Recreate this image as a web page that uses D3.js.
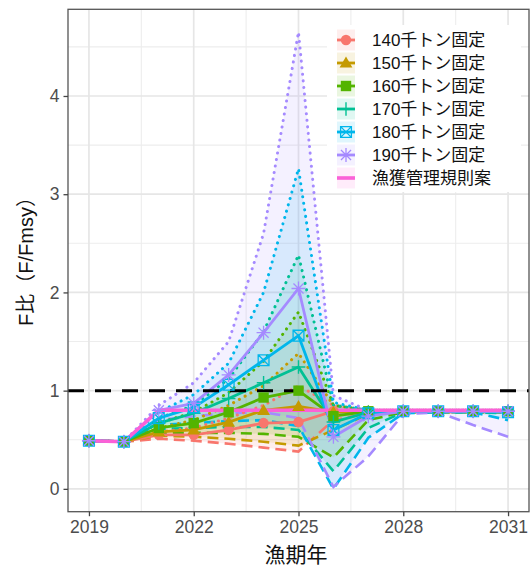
<!DOCTYPE html>
<html>
<head>
<meta charset="utf-8">
<script src="https://cdn.jsdelivr.net/npm/d3@7"></script>
<style>
  body { margin: 0; background: #ffffff; }
  svg { display: block; }
  text { font-family: "Liberation Sans", Arial, "Noto Sans CJK JP", sans-serif; }
</style>
</head>
<body>
<svg id="chart" width="532" height="572"></svg>
<script>
// Fishing years on the x axis
const years = [2019, 2020, 2021, 2022, 2023, 2024, 2025, 2026, 2027, 2028, 2029, 2030, 2031];
const xTicks = [2019, 2022, 2025, 2028, 2031];
const yTicks = [0, 1, 2, 3, 4];

// Catch scenarios
const scenarioNames = ["140千トン固定", "150千トン固定", "160千トン固定", "170千トン固定",
                       "180千トン固定", "190千トン固定", "漁獲管理規則案"];
const seriesColors = ["#F8766D", "#C49A00", "#53B400", "#00C094", "#00B6EB", "#A58AFF", "#FB61D7"];
const markerKinds = ["circle", "triangle", "square", "plus", "boxcross", "asterisk", "none"];

// Median F/Fmsy per scenario
const medianF = [
  [0.49, 0.48, 0.55, 0.55, 0.60, 0.67, 0.68, 0.79, 0.79, 0.79, 0.79, 0.79, 0.79],
  [0.49, 0.48, 0.58, 0.60, 0.68, 0.80, 0.84, 0.78, 0.79, 0.79, 0.79, 0.79, 0.79],
  [0.49, 0.48, 0.62, 0.67, 0.78, 0.93, 1.00, 0.74, 0.79, 0.79, 0.79, 0.79, 0.79],
  [0.49, 0.48, 0.67, 0.77, 0.92, 1.08, 1.24, 0.68, 0.78, 0.79, 0.79, 0.79, 0.79],
  [0.49, 0.48, 0.72, 0.83, 1.06, 1.31, 1.56, 0.60, 0.77, 0.79, 0.79, 0.79, 0.78],
  [0.49, 0.48, 0.80, 0.87, 1.16, 1.59, 2.04, 0.53, 0.74, 0.79, 0.79, 0.79, 0.79],
  [0.49, 0.48, 0.80, 0.80, 0.80, 0.80, 0.80, 0.80, 0.80, 0.80, 0.80, 0.80, 0.80]
];

// Lower bound of the F/Fmsy range per scenario
const lowerF = [
  [0.49, 0.48, 0.51, 0.49, 0.46, 0.42, 0.38, 0.70, 0.77, 0.78, 0.78, 0.78, 0.78],
  [0.49, 0.48, 0.54, 0.53, 0.51, 0.48, 0.44, 0.60, 0.76, 0.78, 0.78, 0.78, 0.78],
  [0.49, 0.48, 0.57, 0.57, 0.57, 0.56, 0.53, 0.32, 0.70, 0.78, 0.78, 0.78, 0.78],
  [0.49, 0.48, 0.61, 0.62, 0.63, 0.63, 0.60, 0.18, 0.62, 0.78, 0.78, 0.78, 0.77],
  [0.49, 0.48, 0.65, 0.67, 0.69, 0.70, 0.64, 0.00, 0.52, 0.77, 0.78, 0.78, 0.70],
  [0.49, 0.48, 0.70, 0.74, 0.77, 0.78, 0.72, 0.02, 0.33, 0.76, 0.78, 0.65, 0.53],
  [0.49, 0.48, 0.80, 0.80, 0.80, 0.80, 0.80, 0.80, 0.80, 0.80, 0.80, 0.80, 0.80]
];

// Upper bound of the F/Fmsy range per scenario
const upperF = [
  [0.49, 0.48, 0.58, 0.62, 0.72, 0.85, 1.05, 0.85, 0.80, 0.80, 0.80, 0.80, 0.80],
  [0.49, 0.48, 0.62, 0.70, 0.85, 1.05, 1.38, 0.85, 0.80, 0.80, 0.80, 0.80, 0.80],
  [0.49, 0.48, 0.67, 0.78, 0.98, 1.30, 1.80, 0.85, 0.80, 0.80, 0.80, 0.80, 0.80],
  [0.49, 0.48, 0.72, 0.85, 1.12, 1.60, 2.38, 0.85, 0.80, 0.80, 0.80, 0.80, 0.80],
  [0.49, 0.48, 0.78, 0.96, 1.28, 2.00, 3.26, 0.88, 0.80, 0.80, 0.80, 0.80, 0.80],
  [0.49, 0.48, 0.85, 1.08, 1.50, 2.60, 4.65, 0.95, 0.80, 0.80, 0.80, 0.80, 0.80],
  [0.49, 0.48, 0.80, 0.80, 0.80, 0.80, 0.80, 0.80, 0.80, 0.80, 0.80, 0.80, 0.80]
];

const referenceF = 1;

// ---- layout ----
const svg = d3.select("#chart");
const W = 532, H = 572;
const panel = { left: 68, right: 529, top: 9.3, bottom: 511.7 };

const xSpan = d3.extent(years);
const xPad = (xSpan[1] - xSpan[0]) * 0.05;
const x = d3.scaleLinear()
  .domain([xSpan[0] - xPad, xSpan[1] + xPad])
  .range([panel.left, panel.right]);

const allVals = [].concat(...medianF, ...lowerF, ...upperF);
const ySpan = d3.extent(allVals);
const yPad = (ySpan[1] - ySpan[0]) * 0.05;
const y = d3.scaleLinear()
  .domain([ySpan[0] - yPad, ySpan[1] + yPad])
  .range([panel.bottom, panel.top]);

svg.append("rect").attr("width", W).attr("height", H).attr("fill", "#ffffff");

// grid
const grid = svg.append("g");
const xMinor = d3.range(xTicks.length - 1).map(i => (xTicks[i] + xTicks[i + 1]) / 2);
const yMinor = d3.range(0.5, y.domain()[1], 1);
grid.selectAll(".vminor").data(xMinor).join("line")
  .attr("x1", d => x(d)).attr("x2", d => x(d))
  .attr("y1", panel.top).attr("y2", panel.bottom)
  .attr("stroke", "#ededed").attr("stroke-width", 1.1);
grid.selectAll(".hminor").data(yMinor).join("line")
  .attr("x1", panel.left).attr("x2", panel.right)
  .attr("y1", d => y(d)).attr("y2", d => y(d))
  .attr("stroke", "#ededed").attr("stroke-width", 1.1);
grid.selectAll(".vmajor").data(xTicks).join("line")
  .attr("x1", d => x(d)).attr("x2", d => x(d))
  .attr("y1", panel.top).attr("y2", panel.bottom)
  .attr("stroke", "#e6e6e6").attr("stroke-width", 1.7);
grid.selectAll(".hmajor").data(yTicks).join("line")
  .attr("x1", panel.left).attr("x2", panel.right)
  .attr("y1", d => y(d)).attr("y2", d => y(d))
  .attr("stroke", "#e6e6e6").attr("stroke-width", 1.7);

const plot = svg.append("g");
const series = scenarioNames.map((name, i) => ({
  name, color: seriesColors[i], marker: markerKinds[i],
  pts: years.map((yr, j) => ({ yr, med: medianF[i][j], lo: lowerF[i][j], hi: upperF[i][j] }))
}));

// ribbons
const area = d3.area().x(d => x(d.yr)).y0(d => y(d.lo)).y1(d => y(d.hi));
plot.selectAll(".band").data(series).join("path")
  .attr("d", s => area(s.pts))
  .attr("fill", s => s.color).attr("fill-opacity", 0.12).attr("stroke", "none");

// lower bound (dashed)
const lineOf = key => d3.line().x(d => x(d.yr)).y(d => y(d[key]));
plot.selectAll(".lo").data(series).join("path")
  .attr("d", s => lineOf("lo")(s.pts))
  .attr("fill", "none").attr("stroke", s => s.color)
  .attr("stroke-width", 2.6).attr("stroke-dasharray", "11 6");

// upper bound (dotted)
plot.selectAll(".hi").data(series).join("path")
  .attr("d", s => lineOf("hi")(s.pts))
  .attr("fill", "none").attr("stroke", s => s.color)
  .attr("stroke-width", 3).attr("stroke-linecap", "round")
  .attr("stroke-dasharray", "0.1 6.5");

// medians (solid)
plot.selectAll(".med").data(series).join("path")
  .attr("d", s => lineOf("med")(s.pts))
  .attr("fill", "none").attr("stroke", s => s.color)
  .attr("stroke-width", (s, i) => i === 6 ? 3.6 : 2.8)
  .attr("stroke-linejoin", "round");

// reference line F/Fmsy = 1
plot.append("line")
  .attr("x1", panel.left).attr("x2", panel.right)
  .attr("y1", y(referenceF)).attr("y2", y(referenceF))
  .attr("stroke", "#000").attr("stroke-width", 3)
  .attr("stroke-dasharray", "16 11");

// markers
function drawMarker(g, kind, cx, cy, color) {
  if (kind === "circle") {
    g.append("circle").attr("cx", cx).attr("cy", cy).attr("r", 5.2).attr("fill", color);
  } else if (kind === "triangle") {
    const s = 6.4;
    g.append("path").attr("d", `M${cx},${cy - s}L${cx + s},${cy + s * 0.72}L${cx - s},${cy + s * 0.72}Z`).attr("fill", color);
  } else if (kind === "square") {
    g.append("rect").attr("x", cx - 5.2).attr("y", cy - 5.2).attr("width", 10.4).attr("height", 10.4).attr("fill", color);
  } else if (kind === "plus") {
    const s = 6.8;
    g.append("path").attr("d", `M${cx - s},${cy}H${cx + s}M${cx},${cy - s}V${cy + s}`)
      .attr("stroke", color).attr("stroke-width", 1.4).attr("fill", "none");
  } else if (kind === "boxcross") {
    const s = 5.4;
    g.append("path").attr("d", `M${cx - s},${cy - s}H${cx + s}V${cy + s}H${cx - s}Z M${cx - s},${cy - s}L${cx + s},${cy + s}M${cx + s},${cy - s}L${cx - s},${cy + s}`)
      .attr("stroke", color).attr("stroke-width", 1.3).attr("fill", "none");
  } else if (kind === "asterisk") {
    const s = 7, d = s * 0.72;
    g.append("path").attr("d", `M${cx - s},${cy}H${cx + s}M${cx},${cy - s}V${cy + s}M${cx - d},${cy - d}L${cx + d},${cy + d}M${cx + d},${cy - d}L${cx - d},${cy + d}`)
      .attr("stroke", color).attr("stroke-width", 1.3).attr("fill", "none");
  }
}
series.forEach(s => {
  if (s.marker === "none") return;
  const g = plot.append("g");
  s.pts.forEach(p => drawMarker(g, s.marker, x(p.yr), y(p.med), s.color));
});

// panel border
svg.append("rect")
  .attr("x", panel.left).attr("y", panel.top)
  .attr("width", panel.right - panel.left).attr("height", panel.bottom - panel.top)
  .attr("fill", "none").attr("stroke", "#555555").attr("stroke-width", 1.3);

// axes
const xAxis = svg.append("g").attr("transform", `translate(0,${panel.bottom})`)
  .call(d3.axisBottom(x).tickValues(xTicks).tickFormat(d3.format("d")).tickSize(4.5).tickPadding(4));
const yAxis = svg.append("g").attr("transform", `translate(${panel.left},0)`)
  .call(d3.axisLeft(y).tickValues(yTicks).tickFormat(d3.format("d")).tickSize(4.5).tickPadding(4));
[xAxis, yAxis].forEach(a => {
  a.select(".domain").remove();
  a.selectAll(".tick line").attr("stroke", "#444").attr("stroke-width", 1.3);
  a.selectAll(".tick text").attr("fill", "#4d4d4d").style("font-size", "17.5px");
});

// axis titles
svg.append("text").attr("x", 296).attr("y", 562).attr("text-anchor", "middle")
  .style("font-size", "21px").attr("fill", "#111").text("漁期年");
svg.append("text").attr("transform", `translate(33,${(panel.top + panel.bottom) / 2 - 4}) rotate(-90)`)
  .attr("text-anchor", "middle").style("font-size", "20px").attr("fill", "#111")
  .text("F比（F/Fmsy）");

// legend
const legend = svg.append("g");
legend.append("rect").attr("x", 327).attr("y", 25).attr("width", 194).attr("height", 167).attr("fill", "#ffffff");
series.forEach((s, i) => {
  const cy = 40 + i * 23;
  const kx = 337, kw = 18;
  legend.append("rect").attr("x", kx).attr("y", cy - 10.5).attr("width", kw).attr("height", 21)
    .attr("fill", s.color).attr("fill-opacity", 0.12);
  legend.append("line").attr("x1", kx).attr("x2", kx + kw).attr("y1", cy).attr("y2", cy)
    .attr("stroke", s.color).attr("stroke-width", i === 6 ? 3.6 : 2.8);
  drawMarker(legend, s.marker, kx + kw / 2, cy, s.color);
  legend.append("text").attr("x", 372).attr("y", cy).attr("dy", "0.36em")
    .style("font-size", "17px").attr("fill", "#111").text(s.name);
});
</script>
</body>
</html>
